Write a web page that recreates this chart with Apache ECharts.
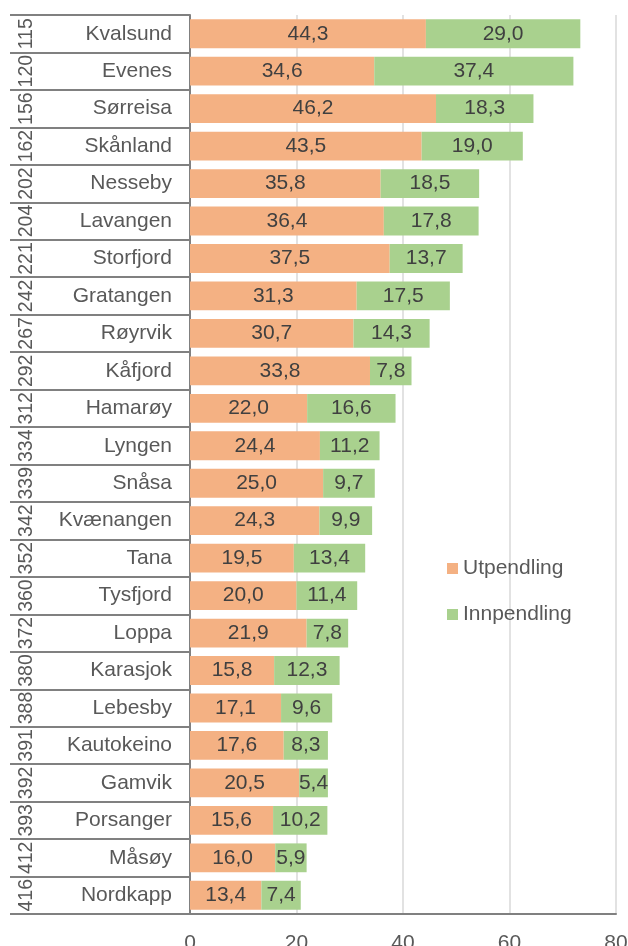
<!DOCTYPE html>
<html>
<head>
<meta charset="utf-8">
<script src="https://cdn.jsdelivr.net/npm/echarts@6/dist/echarts.min.js"></script>
<style>
  html, body { margin: 0; padding: 0; background: #fff; }
  #chart { width: 628px; height: 946px; }
</style>
</head>
<body>
<div id="chart"></div>
<script>
//kommuner og rangering
var kommuner = ['Kvalsund', 'Evenes', 'Sørreisa', 'Skånland', 'Nesseby', 'Lavangen', 'Storfjord', 'Gratangen',
  'Røyrvik', 'Kåfjord', 'Hamarøy', 'Lyngen', 'Snåsa', 'Kvænangen', 'Tana', 'Tysfjord', 'Loppa', 'Karasjok',
  'Lebesby', 'Kautokeino', 'Gamvik', 'Porsanger', 'Måsøy', 'Nordkapp'];
var rangering = ['115', '120', '156', '162', '202', '204', '221', '242', '267', '292', '312', '334', '339', '342',
  '352', '360', '372', '380', '388', '391', '392', '393', '412', '416'];
var utpendling = [44.3, 34.6, 46.2, 43.5, 35.8, 36.4, 37.5, 31.3, 30.7, 33.8, 22.0, 24.4, 25.0, 24.3,
  19.5, 20.0, 21.9, 15.8, 17.1, 17.6, 20.5, 15.6, 16.0, 13.4];
var innpendling = [29.0, 37.4, 18.3, 19.0, 18.5, 17.8, 13.7, 17.5, 14.3, 7.8, 16.6, 11.2, 9.7, 9.9,
  13.4, 11.4, 7.8, 12.3, 9.6, 8.3, 5.4, 10.2, 5.9, 7.4];
var xTicks = [0, 20, 40, 60, 80];

var fontFam = 'Liberation Sans, Arial, sans-serif';
var txtColor = '#595959';
var fs = 21;

//komma som desimaltegn
function fmt(v) {
  return v.toFixed(1).replace('.', ',');
}

function renderChart() {
  var myChart = echarts.init(document.getElementById('chart'));
  var options = {
    backgroundColor: '#fff',
    animation: false,
    grid: { left: 190, right: 12, top: 15, bottom: 32, containLabel: false, outerBoundsMode: 'none' },
    legend: {
      orient: 'vertical',
      left: 442,
      top: 553,
      itemWidth: 11,
      itemHeight: 11,
      itemGap: 25,
      itemTextGap: 5,
      icon: 'rect',
      textStyle: { color: txtColor, fontSize: fs, fontFamily: fontFam },
      data: ['Utpendling', 'Innpendling']
    },
    xAxis: {
      type: 'value',
      min: xTicks[0],
      max: xTicks[xTicks.length - 1],
      interval: 20,
      axisLine: { show: true, lineStyle: { color: '#808080', width: 2 } },
      axisTick: { show: false },
      splitLine: { show: true, lineStyle: { color: '#d9d9d9', width: 1.5 } },
      axisLabel: { color: txtColor, fontSize: fs, fontFamily: fontFam, margin: 19 }
    },
    yAxis: [{
      type: 'category',
      inverse: true,
      data: kommuner,
      axisLine: { show: true, lineStyle: { color: '#808080', width: 2 } },
      axisTick: { show: true, length: 180, lineStyle: { color: '#808080', width: 2 } },
      axisLabel: { color: txtColor, fontSize: fs, fontFamily: fontFam, margin: 18 }
    }, {
      type: 'category',
      inverse: true,
      position: 'left',
      data: rangering,
      axisLine: { show: false },
      axisTick: { show: false },
      axisLabel: {
        interval: 0,
        hideOverlap: false,
        rotate: 90,
        color: txtColor,
        fontSize: 19.5,
        fontFamily: fontFam,
        margin: 153
      }
    }],
    series: [{
      name: 'Utpendling',
      type: 'bar',
      stack: 'tot',
      barWidth: '77%',
      data: utpendling,
      itemStyle: { color: '#f4b183' },
      label: {
        show: true,
        position: 'inside',
        color: '#404040',
        fontSize: fs,
        fontFamily: fontFam,
        formatter: function (p) { return fmt(p.value); }
      }
    }, {
      name: 'Innpendling',
      type: 'bar',
      stack: 'tot',
      data: innpendling,
      itemStyle: { color: '#a9d18e' },
      label: {
        show: true,
        position: 'inside',
        color: '#404040',
        fontSize: fs,
        fontFamily: fontFam,
        formatter: function (p) { return fmt(p.value); }
      }
    }]
  };
  myChart.setOption(options, true);
}

renderChart();
</script>
</body>
</html>
